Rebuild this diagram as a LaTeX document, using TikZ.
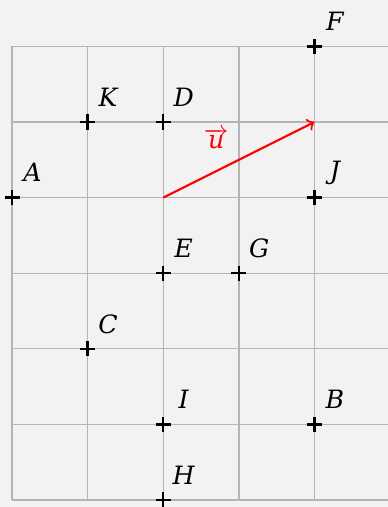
\documentclass[tikz,border=0pt]{standalone}
\usepackage{fontspec}
\setmainfont{DejaVu Serif}
\usetikzlibrary{calc}
\definecolor{bg}{HTML}{F2F2F2}
\definecolor{gridc}{HTML}{B4B4B4}
\tikzset{
  gridline/.style={draw=gridc, line width=0.5pt},
  ptcross/.style={draw=black, line width=0.9pt},
  ptlabel/.style={inner sep=0pt, anchor=center, font=\itshape\fontsize{9.5}{11}\selectfont},
  vecstyle/.style={draw=red, line width=0.8pt, ->},
}
\begin{document}
\begin{tikzpicture}
\fill[bg] (-0.16,-0.093) rectangle (4.97,6.614);
\useasboundingbox (-0.16,-0.093) rectangle (4.97,6.614);
\begin{scope}
  \clip (-0.16,-0.093) rectangle (4.97,6.614);
  \draw[gridline] (0,0) grid (5,6);
\end{scope}
\foreach \n/\x/\y in {F/4/6, K/1/5, D/2/5, A/0/4, J/4/4, E/2/3, G/3/3, C/1/2, I/2/1, B/4/1, H/2/0}{
  \coordinate (\n) at (\x,\y);
  \draw[ptcross] ($(\n)+(-0.1,0)$) -- ($(\n)+(0.1,0)$);
  \draw[ptcross] ($(\n)+(0,-0.1)$) -- ($(\n)+(0,0.1)$);
  \node[ptlabel] (\n lbl) at ($(\n)+(0.27,0.33)$) {\n};
}
\coordinate (O) at (2,4);
\coordinate (U) at (4,5);
\draw[vecstyle] (O) -- (U);
\node[ptlabel, text=red] (ulbl) at (2.70,4.78) {$\overrightarrow{\hbox{\itshape\fontsize{9.5}{11}\selectfont u}}$};
\end{tikzpicture}
\end{document}
